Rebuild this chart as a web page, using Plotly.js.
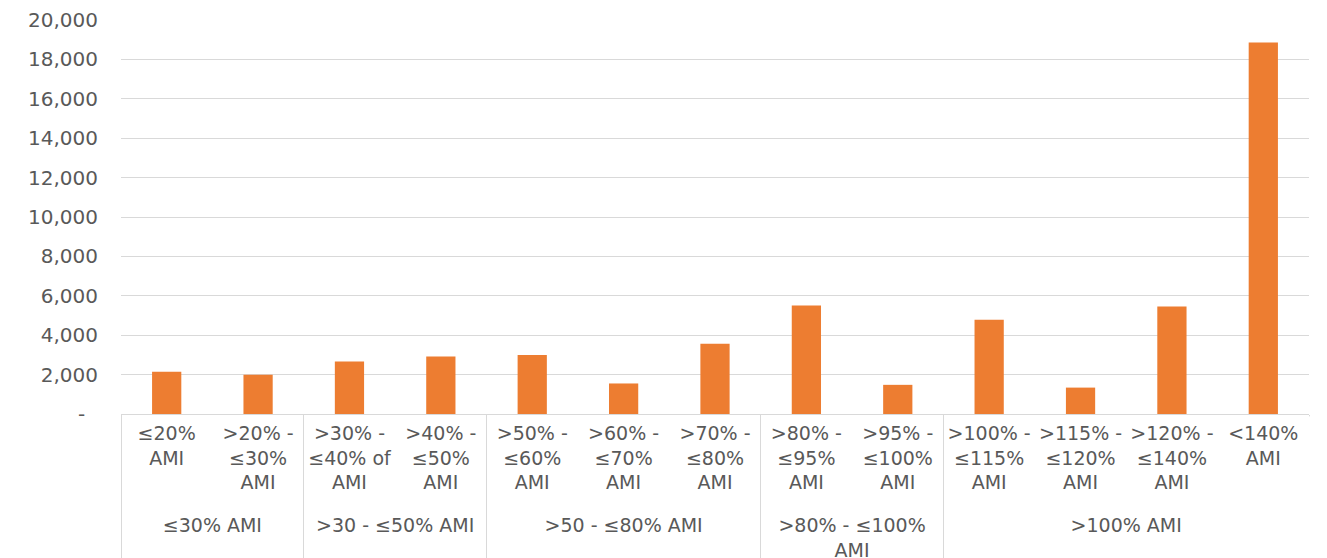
<!DOCTYPE html>
<html>
<head>
<meta charset="utf-8">
<script src="https://cdn.plot.ly/plotly-3.0.1.min.js"></script>
<style>html,body{margin:0;padding:0;background:#fff;}#chart{width:1327px;height:558px;}</style>
</head>
<body>
<div id="chart"></div>
<script>
const groups = [
  "≤30% AMI", "≤30% AMI",
  ">30 - ≤50% AMI", ">30 - ≤50% AMI",
  ">50 - ≤80% AMI", ">50 - ≤80% AMI", ">50 - ≤80% AMI",
  ">80% - ≤100%<br>AMI", ">80% - ≤100%<br>AMI",
  ">100% AMI", ">100% AMI", ">100% AMI", ">100% AMI"
];
const categories = [
  "≤20%<br>AMI", ">20% -<br>≤30%<br>AMI",
  ">30% -<br>≤40% of<br>AMI", ">40% -<br>≤50%<br>AMI",
  ">50% -<br>≤60%<br>AMI", ">60% -<br>≤70%<br>AMI", ">70% -<br>≤80%<br>AMI",
  ">80% -<br>≤95%<br>AMI", ">95% -<br>≤100%<br>AMI",
  ">100% -<br>≤115%<br>AMI", ">115% -<br>≤120%<br>AMI", ">120% -<br>≤140%<br>AMI", "<140%<br>AMI"
];
const values = [2140, 1990, 2670, 2920, 3000, 1550, 3560, 5510, 1480, 4790, 1340, 5460, 18860];
const yTickVals = [0, 2000, 4000, 6000, 8000, 10000, 12000, 14000, 16000, 18000, 20000];
const yTickText = ["-\u00a0\u00a0", "2,000", "4,000", "6,000", "8,000", "10,000", "12,000", "14,000", "16,000", "18,000", "20,000"];

const font = {family: "DejaVu Sans, Lato, sans-serif", size: 19, color: "#595959"};
const yFont = {family: "DejaVu Sans, Lato, sans-serif", size: 20, color: "#595959"};

// spacer line below the sub-category labels so the group row sits lower
const spacer = "<br><span style='font-size:1px'>\u00a0</span>";

Plotly.newPlot("chart", [{
  type: "bar",
  x: [groups, categories.map(c => c + spacer)],
  y: values,
  marker: {color: "#ED7D31"},
  hoverinfo: "skip"
}], {
  width: 1327, height: 558,
  margin: {l: 121, r: 18, t: 20, b: 144},
  paper_bgcolor: "#fff", plot_bgcolor: "#fff",
  bargap: 0.68,
  showlegend: false,
  font: font,
  xaxis: {
    type: "multicategory",
    showline: true, linecolor: "#d9d9d9", linewidth: 1,
    showgrid: false, zeroline: false,
    ticks: "", tickangle: 0, ticklabelstandoff: 2,
    showdividers: true, dividercolor: "#d9d9d9", dividerwidth: 1,
    tickfont: font
  },
  yaxis: {
    range: [0, 20000],
    tickvals: yTickVals, ticktext: yTickText,
    showgrid: true, gridcolor: "#d9d9d9", gridwidth: 1,
    zeroline: false, showline: false,
    ticks: "", ticklabelstandoff: 22,
    tickfont: yFont
  },
  shapes: [{
    type: "line", xref: "paper", yref: "paper",
    x0: 1, x1: 1, y0: -0.006, y1: -0.5,
    line: {color: "#ffffff", width: 3}, layer: "above"
  }]
}, {staticPlot: true, displayModeBar: false});
</script>
</body>
</html>
